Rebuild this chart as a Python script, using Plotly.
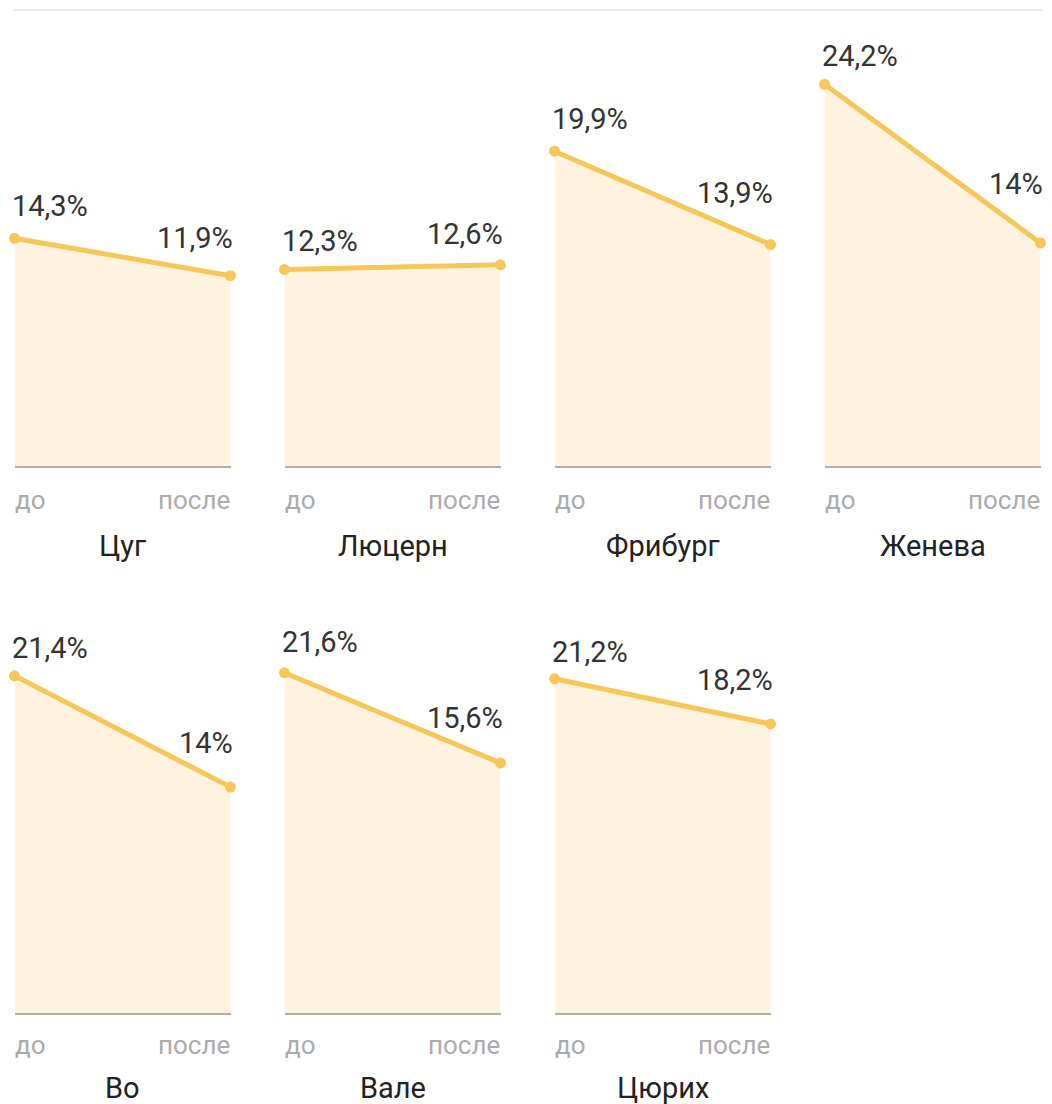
import plotly.graph_objects as go

# ---------------- data ----------------
regions = ["Цуг", "Люцерн", "Фрибург", "Женева", "Во", "Вале", "Цюрих"]
before = [14.3, 12.3, 19.9, 24.2, 21.4, 21.6, 21.2]
after = [11.9, 12.6, 13.9, 14.0, 14.0, 15.6, 18.2]
before_labels = ["14,3%", "12,3%", "19,9%", "24,2%", "21,4%", "21,6%", "21,2%"]
after_labels = ["11,9%", "12,6%", "13,9%", "14%", "14%", "15,6%", "18,2%"]
period_labels = ["до", "после"]

# ---------------- layout (pixels) ----------------
W, H = 1052, 1104
NCOLS = 4
COL_STEP = 270
COL_LEFT0 = 14.5
PANEL_W = 216
ROW_TOP = [60, 620]
ROW_BOTTOM = [466, 1013.3]
ROW_RANGE = [(-0.33, 25.76), (-1.04, 25.11)]
TICK_Y = [500, 1045]
TITLE_Y = [546, 1088]
LEFT_SHIFT = [32, 28, 32, 28, 28, 31, 27]
RIGHT_SHIFT = [38, 31, 52, 59, 44, 45, 44]

LINE_COLOR = "#f6c658"
FILL_COLOR = "#fff3df"
AXIS_COLOR = "#b3ada5"
FONT = "Roboto, Open Sans, sans-serif"


def py(px):
    return 1 - px / H


fig = go.Figure()
annotations = []
layout_axes = {}

for i, name in enumerate(regions):
    r, c = divmod(i, NCOLS)
    left = COL_LEFT0 + COL_STEP * c
    x0, x1 = left / W, (left + PANEL_W) / W
    y0, y1 = py(ROW_BOTTOM[r]), py(ROW_TOP[r])
    ymin, ymax = ROW_RANGE[r]
    n = i + 1
    xa = "x" if n == 1 else f"x{n}"
    ya = "y" if n == 1 else f"y{n}"
    xkey = "xaxis" if n == 1 else f"xaxis{n}"
    ykey = "yaxis" if n == 1 else f"yaxis{n}"

    layout_axes[xkey] = dict(domain=[x0, x1], range=[0, 1], anchor=ya,
                             showgrid=False, zeroline=False, showticklabels=False,
                             showline=True, linecolor=AXIS_COLOR, linewidth=2,
                             fixedrange=True)
    layout_axes[ykey] = dict(domain=[y0, y1], range=[ymin, ymax], anchor=xa,
                             visible=False, fixedrange=True)

    # invisible floor for the area fill
    fig.add_trace(go.Scatter(x=[0, 1], y=[ymin, ymin], mode="lines",
                             line=dict(width=0, color="rgba(0,0,0,0)"),
                             xaxis=xa, yaxis=ya, showlegend=False, hoverinfo="skip"))
    fig.add_trace(go.Scatter(x=[0, 1], y=[before[i], after[i]], mode="lines+markers",
                             fill="tonexty", fillcolor=FILL_COLOR,
                             line=dict(color=LINE_COLOR, width=5),
                             marker=dict(color=LINE_COLOR, size=11),
                             cliponaxis=False,
                             xaxis=xa, yaxis=ya, showlegend=False))

    # value labels
    annotations.append(dict(x=0, y=before[i], xref=xa, yref=ya, text=before_labels[i],
                            showarrow=False, xanchor="left", yanchor="middle",
                            xshift=-5, yshift=LEFT_SHIFT[i],
                            font=dict(family=FONT, size=29, color="#333333")))
    annotations.append(dict(x=1, y=after[i], xref=xa, yref=ya, text=after_labels[i],
                            showarrow=False, xanchor="right", yanchor="middle",
                            xshift=4, yshift=RIGHT_SHIFT[i],
                            font=dict(family=FONT, size=29, color="#333333")))
    # period labels
    annotations.append(dict(x=0, y=py(TICK_Y[r]), xref=xa, yref="paper",
                            text=period_labels[0], showarrow=False,
                            xanchor="left", yanchor="middle", xshift=-2,
                            font=dict(family=FONT, size=26, color="#ababab")))
    annotations.append(dict(x=1, y=py(TICK_Y[r]), xref=xa, yref="paper",
                            text=period_labels[1], showarrow=False,
                            xanchor="right", yanchor="middle", xshift=1,
                            font=dict(family=FONT, size=26, color="#ababab")))
    # panel title
    annotations.append(dict(x=0.5, y=py(TITLE_Y[r]), xref=xa, yref="paper",
                            text=name, showarrow=False,
                            xanchor="center", yanchor="middle",
                            font=dict(family=FONT, size=29, color="#222222")))

fig.update_layout(
    width=W, height=H,
    margin=dict(l=0, r=0, t=0, b=0),
    paper_bgcolor="white", plot_bgcolor="rgba(0,0,0,0)",
    showlegend=False,
    hovermode=False,
    annotations=annotations,
    shapes=[dict(type="line", xref="paper", yref="paper",
                 x0=13 / W, x1=1043 / W, y0=py(10), y1=py(10),
                 line=dict(color="#ebebeb", width=2))],
    **layout_axes,
)

fig.write_html(
    "out.html",
    config={"displayModeBar": False},
    post_script="document.body.style.margin='0px';document.body.style.overflow='hidden';",
)
